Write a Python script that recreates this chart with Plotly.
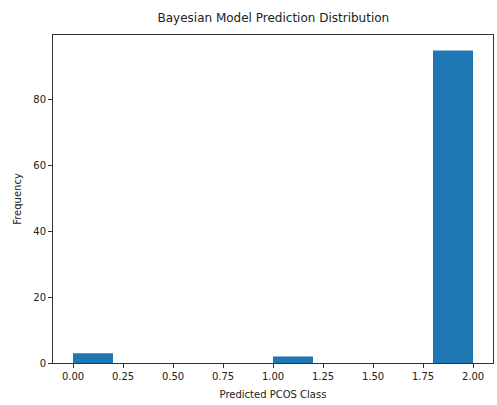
import numpy as np
import plotly.graph_objects as go

# Data
classes = [0, 1, 2]
class_counts = [3, 2, 95]
x_tick_vals = [0.0, 0.25, 0.5, 0.75, 1.0, 1.25, 1.5, 1.75, 2.0]
x_tick_text = ["0.00", "0.25", "0.50", "0.75", "1.00", "1.25", "1.50", "1.75", "2.00"]
y_tick_vals = [0, 20, 40, 60, 80]

predictions = np.repeat(classes, class_counts)
counts, edges = np.histogram(predictions, bins=10)
widths = np.diff(edges)

fig = go.Figure(go.Bar(
    x=edges[:-1], y=counts, width=widths, offset=0,
    marker=dict(color="#1f77b4", line=dict(width=0)),
))

font = "DejaVu Sans, Liberation Sans, sans-serif"
axis_common = dict(
    showline=True, linecolor="#333333", linewidth=1, mirror=True,
    ticks="outside", ticklen=4, tickcolor="#333333", tickwidth=1,
    showgrid=False, zeroline=False,
    tickfont=dict(family=font, size=10, color="#222222"),
)
span = edges[-1] - edges[0]
fig.update_layout(
    width=497, height=405,
    margin=dict(l=53, r=4, t=35, b=42),
    paper_bgcolor="white", plot_bgcolor="white",
    showlegend=False,
    title=dict(text="Bayesian Model Prediction Distribution", x=0.55, xanchor="center",
               y=0.955, yanchor="middle",
               font=dict(family=font, size=12, color="#222222")),
    xaxis=dict(axis_common, range=[edges[0] - 0.05 * span, edges[-1] + 0.05 * span],
               tickvals=x_tick_vals, ticktext=x_tick_text,
               title=dict(text="Predicted PCOS Class", standoff=9,
                          font=dict(family=font, size=10, color="#222222"))),
    yaxis=dict(axis_common, range=[0, counts.max() * 1.05], tickvals=y_tick_vals,
               title=dict(text="Frequency", standoff=9,
                          font=dict(family=font, size=10, color="#222222"))),
)
fig.write_html("out.html", config={"displayModeBar": False},
               post_script="document.body.style.margin='0';document.body.style.overflow='hidden';")
